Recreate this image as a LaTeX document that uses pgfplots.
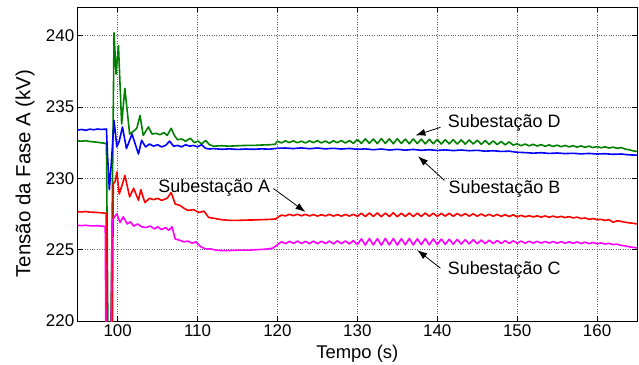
\documentclass[border=0pt]{standalone}
\usepackage{fontspec}
\setmainfont{Liberation Sans}
\usepackage{pgfplots}
\pgfplotsset{compat=1.18}
\usetikzlibrary{arrows.meta}
\definecolor{mgreen}{rgb}{0,0.5,0}
\definecolor{mblue}{rgb}{0,0,1}
\definecolor{mred}{rgb}{1,0,0}
\definecolor{mmag}{rgb}{1,0,1}

\pgfplotstableread{
t v
95.0 232.62
95.5 232.60
96.0 232.63
96.5 232.58
97.0 232.55
97.5 232.52
98.0 232.48
98.4 232.45
98.6 232.40
98.8 218.0
99.0 213.0
99.25 224.0
99.55 240.2
99.8 237.3
100.1 239.3
100.5 233.8
100.9 236.3
101.5 233.1
102.0 233.3
102.4 233.5
102.8 234.4
103.2 233.0
103.85 233.6
104.3 233.1
104.8 233.15
105.3 233.05
105.8 233.2
106.2 233.0
106.7 233.5
107.1 233.0
107.5 232.7
108.0 232.75
108.5 232.6
109.1 232.8
109.6 232.5
110.1 232.6
110.5 232.4
111.0 232.65
111.5 232.35
112.0 232.25
113.0 232.28
114.0 232.25
115.0 232.28
116.0 232.30
117.0 232.30
118.0 232.33
119.0 232.35
119.7 232.38
120.0 232.60
120.5 232.48
121.0 232.62
121.5 232.50
122.0 232.63
122.5 232.49
123.0 232.60
123.5 232.47
124.0 232.62
124.5 232.50
125.0 232.64
125.5 232.48
126.0 232.61
126.5 232.46
127.0 232.63
127.5 232.49
128.0 232.65
128.5 232.47
129.0 232.64
129.5 232.45
130.0 232.72
130.5 232.44
131.0 232.76
131.5 232.45
132.0 232.75
132.5 232.43
133.0 232.78
133.5 232.44
134.0 232.76
134.5 232.42
135.0 232.77
135.5 232.44
136.0 232.74
136.5 232.42
137.0 232.76
137.5 232.43
138.0 232.74
138.5 232.41
139.0 232.73
139.5 232.42
140.0 232.72
140.5 232.40
141.0 232.70
141.5 232.41
142.0 232.71
142.5 232.40
143.0 232.69
143.5 232.39
144.0 232.68
144.5 232.40
145.0 232.66
145.5 232.38
146.0 232.64
146.5 232.37
147.0 232.62
147.5 232.36
148.0 232.58
148.5 232.34
149.0 232.55
149.5 232.32
150.0 232.42
150.5 232.28
151.0 232.40
151.5 232.27
152.0 232.38
152.5 232.26
153.0 232.36
153.5 232.24
154.0 232.34
154.5 232.23
155.0 232.32
155.5 232.21
156.0 232.30
156.5 232.20
157.0 232.28
157.5 232.18
158.0 232.27
158.5 232.17
159.0 232.25
159.5 232.15
160.0 232.22
160.5 232.14
161.0 232.20
161.5 232.12
162.0 232.18
162.5 232.10
163.0 232.15
163.5 232.05
164.0 232.00
164.5 231.92
165.0 231.88
}\greendata

\pgfplotstableread{
t v
95.0 233.38
95.5 233.42
96.0 233.36
96.5 233.44
97.0 233.40
97.5 233.45
98.0 233.42
98.6 233.45
98.7 232.0
98.96 229.2
99.2 231.0
99.55 234.05
99.9 232.2
100.2 232.6
100.6 233.6
101.1 232.08
101.8 233.1
102.6 231.7
103.0 232.66
103.5 232.2
104.0 232.4
104.5 232.25
105.0 232.35
105.5 232.2
106.0 232.3
106.5 232.6
107.0 232.25
107.5 232.3
108.0 232.2
108.5 232.35
109.0 232.25
109.5 232.3
110.0 232.2
110.5 232.35
111.0 232.1
111.5 232.05
112 232.08
113 232.03
114 232.06
115 232.02
116 232.05
117 232.03
118 232.06
119 232.04
120 232.10
121 232.12
122 232.08
123 232.13
124 232.07
125 232.12
126 232.06
127 232.10
128 232.05
129 232.09
130 232.03
131 232.06
132 232.00
133 232.05
134 231.98
135 232.03
136 231.97
137 232.02
138 231.96
139 232.00
140 231.95
141 231.99
142 231.94
143 231.98
144 231.93
145 231.96
146 231.90
147 231.93
148 231.88
149 231.90
150 231.82
151 231.80
152 231.76
153 231.79
154 231.74
155 231.77
156 231.73
157 231.75
158 231.71
159 231.74
160 231.70
161 231.72
162 231.68
163 231.70
164 231.64
165 231.62
}\bluedata

\pgfplotstableread{
t v
95.0 227.66
95.5 227.64
96.0 227.67
96.5 227.63
97.0 227.62
97.5 227.60
98.0 227.58
98.55 227.55
98.7 216.0
99.0 213.0
99.3 215.0
99.45 229.6
99.7 229.8
99.9 230.44
100.2 228.9
100.6 229.6
100.9 230.2
101.5 228.7
102.0 229.3
102.6 228.46
102.9 229.2
103.4 228.3
104.0 228.6
104.5 228.5
105.0 228.6
105.5 228.45
106.2 228.6
106.7 229.0
107.2 228.2
107.8 228.1
108.3 227.9
108.8 227.75
109.5 227.8
110.2 227.6
110.8 227.7
111.4 227.25
112.0 227.2
113 227.10
114 227.05
115 227.05
116 227.07
117 227.08
118 227.10
119 227.12
119.8 227.15
120.0 227.25
120.5 227.42
121.0 227.36
121.5 227.47
122.0 227.38
122.5 227.48
123.0 227.37
123.5 227.47
124.0 227.36
124.5 227.46
125.0 227.35
125.5 227.45
126.0 227.36
126.5 227.47
127.0 227.35
127.5 227.46
128.0 227.34
128.5 227.47
129.0 227.35
129.5 227.48
130.0 227.33
130.5 227.55
131.0 227.32
131.5 227.56
132.0 227.33
132.5 227.57
133.0 227.31
133.5 227.56
134.0 227.32
134.5 227.58
135.0 227.31
135.5 227.55
136.0 227.33
136.5 227.56
137.0 227.32
137.5 227.55
138.0 227.33
138.5 227.56
139.0 227.34
139.5 227.55
140.0 227.33
140.5 227.54
141.0 227.35
141.5 227.55
142.0 227.34
142.5 227.53
143.0 227.36
143.5 227.52
144.0 227.35
144.5 227.51
145.0 227.34
145.5 227.50
146.0 227.35
146.5 227.48
147.0 227.34
147.5 227.47
148.0 227.33
148.5 227.45
149.0 227.32
149.5 227.44
150.0 227.30
150.5 227.40
151.0 227.30
151.5 227.38
152.0 227.29
152.5 227.37
153.0 227.28
153.5 227.36
154.0 227.27
154.5 227.35
155.0 227.26
155.5 227.33
156.0 227.25
156.5 227.31
157.0 227.22
157.5 227.28
158.0 227.18
158.5 227.22
159.0 227.12
159.5 227.18
160.0 227.10
160.5 227.12
161.0 227.05
161.5 227.10
162.0 226.92
162.5 227.02
163.0 226.98
163.5 226.92
164.0 226.88
164.5 226.85
165.0 226.80
}\reddata

\pgfplotstableread{
t v
95.0 226.70
95.5 226.68
96.0 226.71
96.5 226.67
97.0 226.66
97.5 226.68
98.0 226.65
98.45 226.62
98.55 216.0
98.8 213.0
99.1 214.0
99.3 227.0
99.6 227.3
99.9 227.5
100.3 226.9
100.7 227.3
101.2 226.8
101.6 226.95
102.0 226.65
102.5 226.8
103.0 226.6
103.5 226.55
104.1 226.65
104.6 226.45
105.0 226.6
105.5 226.4
106.0 226.55
106.4 226.35
106.8 226.6
107.2 225.75
107.8 225.65
108.3 225.55
108.8 225.6
109.3 225.45
109.8 225.55
110.4 225.2
111.0 225.05
111.6 225.05
112.5 224.95
113.5 224.93
114.5 224.95
115.5 224.97
116.5 224.97
117.5 225.00
118.5 225.03
119.4 225.10
119.9 225.30
120.5 225.55
121.0 225.42
121.5 225.58
122.0 225.44
122.5 225.60
123.0 225.43
123.5 225.58
124.0 225.42
124.5 225.60
125.0 225.41
125.5 225.59
126.0 225.43
126.5 225.60
127.0 225.40
127.5 225.62
128.0 225.42
128.5 225.61
129.0 225.40
129.5 225.64
130.0 225.36
130.5 225.75
131.0 225.32
131.5 225.78
132.0 225.33
132.5 225.77
133.0 225.31
133.5 225.79
134.0 225.33
134.5 225.78
135.0 225.32
135.5 225.77
136.0 225.34
136.5 225.78
137.0 225.33
137.5 225.76
138.0 225.35
138.5 225.77
139.0 225.34
139.5 225.75
140.0 225.36
140.5 225.74
141.0 225.37
141.5 225.73
142.0 225.38
142.5 225.72
143.0 225.39
143.5 225.70
144.0 225.40
144.5 225.69
145.0 225.41
145.5 225.67
146.0 225.42
146.5 225.66
147.0 225.43
147.5 225.64
148.0 225.43
148.5 225.63
149.0 225.44
149.5 225.62
150.0 225.45
150.5 225.60
151.0 225.45
151.5 225.59
152.0 225.46
152.5 225.58
153.0 225.46
153.5 225.57
154.0 225.46
154.5 225.57
155.0 225.45
155.5 225.56
156.0 225.45
156.5 225.55
157.0 225.44
157.5 225.54
158.0 225.43
158.5 225.52
159.0 225.42
159.5 225.50
160.0 225.41
160.5 225.47
161.0 225.39
161.5 225.44
162.0 225.36
162.5 225.38
163.0 225.30
163.5 225.26
164.0 225.20
164.5 225.16
165.0 225.12
}\magdata

\begin{document}
\begin{tikzpicture}
\begin{axis}[
  scale only axis, width=559.3bp, height=314bp,
  xmin=95, xmax=165, ymin=220, ymax=242,
  xtick={100,110,...,160}, ytick={220,225,...,240},
  grid=major, major grid style={dotted, black!60, line width=0.6bp},
  tick style={black, line width=0.5bp}, major tick length=5bp,
  tick align=inside,
  axis line style={line width=0.8bp},
  /pgf/number format/assume math mode=true,
  ticklabel style={font=\fontsize{17}{20}\selectfont},
  xlabel={Tempo (s)}, ylabel={Tensão da Fase A (kV)},
  xlabel style={font=\fontsize{18.5}{21}\selectfont, at={(rel axis cs:0.5,-0.105)}, anchor=center},
  ylabel style={font=\fontsize{20.5}{23}\selectfont, at={(rel axis cs:-0.094,0.47)}, anchor=center},
  every axis plot/.append style={line width=1.6bp, no markers, line join=round},
]
\addplot[mgreen] table[x=t,y=v] {\greendata};
\addplot[mblue] table[x=t,y=v] {\bluedata};
\addplot[mred] table[x=t,y=v] {\reddata};
\addplot[mmag] table[x=t,y=v] {\magdata};

\node[anchor=west, inner sep=0pt, font=\fontsize{18}{20}\selectfont] at (axis cs:141.3,233.85) {Subestação D};
\draw[-{Latex[length=10bp,width=7bp]}, line width=0.8bp] (axis cs:140.4,233.57) -- (axis cs:137.27,233.0);
\node[anchor=west, inner sep=0pt, font=\fontsize{18}{20}\selectfont] at (axis cs:141.4,229.23) {Subestação B};
\draw[-{Latex[length=10bp,width=7bp]}, line width=0.8bp] (axis cs:140.9,229.85) -- (axis cs:137.6,231.54);
\node[anchor=east, inner sep=0pt, font=\fontsize{18}{20}\selectfont] at (axis cs:119.1,229.3) {Subestação A};
\draw[-{Latex[length=10bp,width=7bp]}, line width=0.8bp] (axis cs:119.5,229.28) -- (axis cs:123.5,227.64);
\node[anchor=west, inner sep=0pt, font=\fontsize{18}{20}\selectfont] at (axis cs:141.3,223.57) {Subestação C};
\draw[-{Latex[length=10bp,width=7bp]}, line width=0.8bp] (axis cs:140.4,223.7) -- (axis cs:137.5,224.97);
\end{axis}
\pgfresetboundingbox
\useasboundingbox ([shift={(-77.7bp,-43bp)}]current axis.south west) rectangle ([shift={(2bp,7bp)}]current axis.north east);
\end{tikzpicture}
\end{document}
